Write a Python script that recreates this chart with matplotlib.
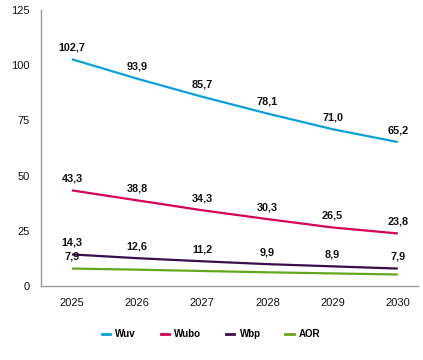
import matplotlib
matplotlib.use("Agg")
import matplotlib.pyplot as plt
from matplotlib.lines import Line2D

plt.rcParams['font.family'] = ['Liberation Sans', 'DejaVu Sans']

years = ["2025", "2026", "2027", "2028", "2029", "2030"]
wuv = [102.7, 93.9, 85.7, 78.1, 71.0, 65.2]
wubo = [43.3, 38.8, 34.3, 30.3, 26.5, 23.8]
wbp = [14.3, 12.6, 11.2, 9.9, 8.9, 7.9]
aor = [7.9, 7.4, 6.8, 6.2, 5.7, 5.2]
series_names = ["Wuv", "Wubo", "Wbp", "AOR"]
colors = ["#0aa0dc", "#d4005a", "#3a0d4d", "#63a81b"]
label_all = [True, True, True, False]

fig = plt.figure(figsize=(4.23, 3.6), dpi=100)
ax = fig.add_axes([41/423, 1-286/360, (418-41)/423, (286-10)/360])

x = list(range(len(years)))
for vals, name, c, la in zip([wuv, wubo, wbp, aor], series_names, colors, label_all):
    ax.plot(x, vals, color=c, lw=1.6, solid_capstyle='butt')
    idxs = x if la else [0]
    for i in idxs:
        ax.annotate(f"{vals[i]:.1f}".replace('.', ','), (i, vals[i]),
                    xytext=(0, 8.5), textcoords='offset points',
                    ha='center', va='center', fontsize=7.8, fontweight='bold', color='#111111')

ax.set_xlim(-0.475, 5.31)
ax.set_ylim(0, 125)
ax.set_yticks([0, 25, 50, 75, 100, 125])
ax.set_xticks(x)
ax.set_xticklabels(years)
ax.tick_params(axis='both', length=0, labelsize=8, colors='#111111')
ax.tick_params(axis='y', pad=8)
ax.tick_params(axis='x', pad=8.5)
for s in ['top', 'right']:
    ax.spines[s].set_visible(False)
for s in ['left', 'bottom']:
    ax.spines[s].set_color('#999999')
    ax.spines[s].set_linewidth(1.0)

handles = [Line2D([0], [0], color=c, lw=2) for c in colors]
fig.legend(handles, series_names, loc='center', bbox_to_anchor=(211/423, 1-334/360),
           ncol=4, frameon=False, handlelength=0.85, handletextpad=0.55, columnspacing=2.55,
           prop={'size': 7, 'weight': 'bold'})

fig.savefig("out.png", dpi=100)
